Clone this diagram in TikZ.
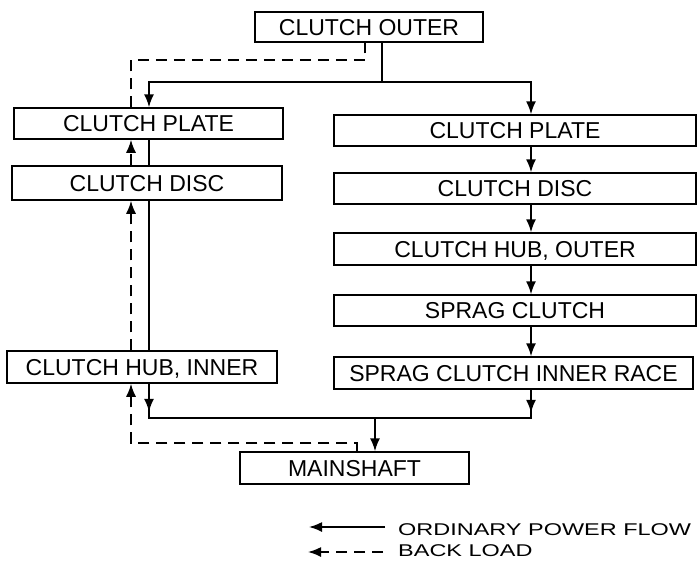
\documentclass[tikz,border=0pt]{standalone}
\usepackage{fontspec}
\setmainfont{Liberation Sans}
\newfontfamily\legendfont[FakeStretch=1.38]{Liberation Sans}
\usetikzlibrary{arrows.meta,decorations.markings}
\begin{document}
\begin{tikzpicture}[x=1pt,y=-1pt,
  partbox/.style={draw,line width=1.5pt,inner sep=0pt,text height=16.5pt,text depth=0pt,font=\fontsize{23}{26}\selectfont},
  flow/.style={line width=1.6pt},
  back/.style={line width=1.6pt,dash pattern=on 11pt off 7pt},
  >={Latex[length=13pt,width=10pt]},
  midarrow/.style={postaction={decorate},decoration={markings,mark=at position #1 with {\arrow{>}}}},
  legendtext/.style={inner sep=0pt,anchor=west,font=\legendfont\fontsize{17}{20}\selectfont}]
\useasboundingbox (0,0) rectangle (698,568);

% boxes
\node[partbox,minimum width=228pt,minimum height=30pt] (outer) at (369,27) {CLUTCH OUTER};
\node[partbox,minimum width=269pt,minimum height=31pt] (lplate) at (148.5,123.5) {CLUTCH PLATE};
\node[partbox,minimum width=270pt,minimum height=34pt] (ldisc) at (147,183) {CLUTCH DISC};
\node[partbox,minimum width=270pt,minimum height=32pt] (lhub) at (142,367) {CLUTCH HUB, INNER};
\node[partbox,minimum width=362pt,minimum height=31pt] (rplate) at (515,130.5) {CLUTCH PLATE};
\node[partbox,minimum width=362pt,minimum height=31pt] (rdisc) at (515,188.5) {CLUTCH DISC};
\node[partbox,minimum width=362pt,minimum height=32pt] (rhub) at (515,249) {CLUTCH HUB, OUTER};
\node[partbox,minimum width=362pt,minimum height=31pt] (sprag) at (515,310.5) {SPRAG CLUTCH};
\node[partbox,minimum width=359pt,minimum height=32pt] (race) at (513.5,373) {SPRAG CLUTCH INNER RACE};
\node[partbox,minimum width=229pt,minimum height=32pt] (mainshaft) at (354.5,468) {MAINSHAFT};

% reference x positions
\coordinate (xS) at (382,0);
\coordinate (xD) at (365,0);
\coordinate (xL) at (149,0);
\coordinate (xLd) at (131,0);
\coordinate (xR) at (531,0);
\coordinate (xM) at (375,0);
\coordinate (xMd) at (357,0);
\coordinate (jS) at (382,82);
\coordinate (jD2) at (365,60);
\coordinate (jB) at (375,418);
\coordinate (jD1) at (357,443);

% ordinary power flow
\draw[flow] (outer.south -| xS) -- (jS);
\draw[flow,->] (jS) -| (lplate.north -| xL);
\draw[flow,->] (jS) -| (rplate.north -| xR);
\draw[flow,->] (rplate.south -| xR) -- (rdisc.north -| xR);
\draw[flow,->] (rdisc.south -| xR) -- (rhub.north -| xR);
\draw[flow,->] (rhub.south -| xR) -- (sprag.north -| xR);
\draw[flow,->] (sprag.south -| xR) -- (race.north -| xR);
\draw[flow,midarrow=23pt] (race.south -| xR) |- (jB);
\draw[flow,midarrow=28pt] (lhub.south -| xL) |- (jB);
\draw[flow,->] (jB) -- (mainshaft.north -| xM);
\draw[flow] (lplate.south -| xL) -- (ldisc.north -| xL);
\draw[flow] (ldisc.south -| xL) -- (lhub.north -| xL);

% back load
\draw[back,->] (mainshaft.north -| xMd) -- (jD1) -| (lhub.south -| xLd);
\draw[back,->] (lhub.north -| xLd) -- (ldisc.south -| xLd);
\draw[back,->] (ldisc.north -| xLd) -- (lplate.south -| xLd);
\draw[back] (lplate.north -| xLd) |- (jD2) -- (outer.south -| xD);

% legend
\node[legendtext] (lg1) at (398,530) {ORDINARY POWER FLOW};
\node[legendtext] (lg2) at (398,551) {BACK LOAD};
\coordinate (a1s) at (385,527);
\coordinate (a1e) at (309,527);
\coordinate (a2s) at (383,552);
\coordinate (a2e) at (308,552);
\draw[flow,->] (a1s) -- (a1e);
\draw[back,->] (a2s) -- (a2e);
\end{tikzpicture}
\end{document}
